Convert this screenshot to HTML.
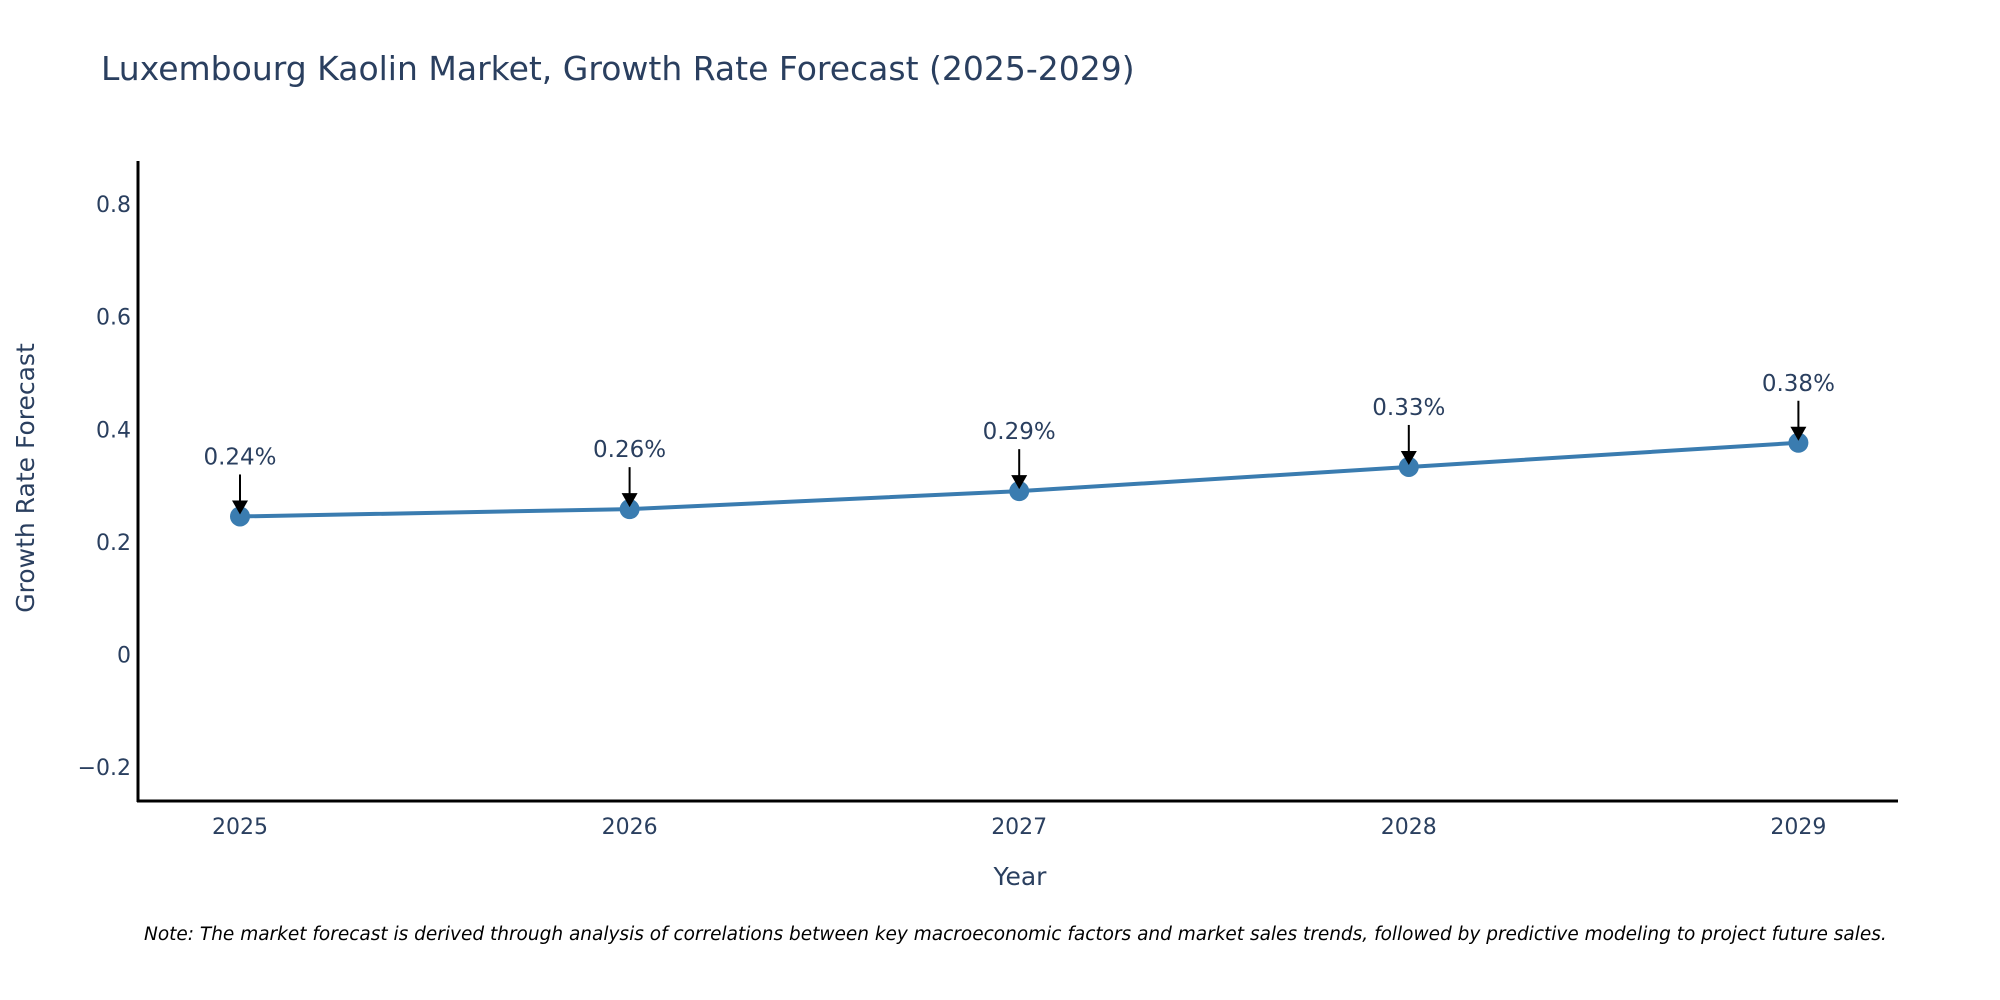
<!DOCTYPE html>
<html><head><meta charset="utf-8"><style>
body{margin:0;background:#fff;overflow:hidden}
svg{display:block;font-family:"DejaVu Sans","Liberation Sans",sans-serif}
</style></head><body>
<svg id="chart" width="2000" height="1000" viewBox="0 0 2000 1000">
<text x="101" y="80" font-size="33" fill="#2a3f5f">Luxembourg Kaolin Market, Growth Rate Forecast (2025-2029)</text>
<g id="yticks"></g>
<g id="xticks"></g>
<line x1="138" y1="161" x2="138" y2="802" stroke="#000" stroke-width="3"/>
<line x1="137" y1="801" x2="1898" y2="801" stroke="#000" stroke-width="3"/>
<g id="series"></g>
<g id="annots"></g>
<text x="1020" y="885" font-size="25" fill="#2a3f5f" text-anchor="middle">Year</text>
<text transform="translate(34,478) rotate(-90)" font-size="25" fill="#2a3f5f" text-anchor="middle">Growth Rate Forecast</text>
<text x="144" y="940" font-size="18.5" font-style="italic" fill="#000">Note: The market forecast is derived through analysis of correlations between key macroeconomic factors and market sales trends, followed by predictive modeling to project future sales.</text>
</svg>
<script>
const categories = ["2025","2026","2027","2028","2029"];
const values = [0.245, 0.258, 0.290, 0.333, 0.376];
const labels = ["0.24%","0.26%","0.29%","0.33%","0.38%"];
const yTicks = [-0.2, 0, 0.2, 0.4, 0.6, 0.8];
const yTickLabels = ["\u22120.2","0","0.2","0.4","0.6","0.8"];
const NS="http://www.w3.org/2000/svg";
function xS(i){return 240 + i*389.6;}
function yS(v){return 654.3 - v*562.6;}
function mk(t,a,p){const e=document.createElementNS(NS,t);for(const k in a)e.setAttribute(k,a[k]);p.appendChild(e);return e;}
const yt=document.getElementById('yticks');
yTicks.forEach((v,i)=>{const t=mk('text',{x:131,y:yS(v)+8,'font-size':22,fill:'#2a3f5f','text-anchor':'end'},yt);


t.textContent=yTickLabels[i];});
const xt=document.getElementById('xticks');
categories.forEach((c,i)=>{const t=mk('text',{x:xS(i),y:834,'font-size':22,fill:'#2a3f5f','text-anchor':'middle'},xt);


t.textContent=c;});
const s=document.getElementById('series');
const line=mk('polyline',{points:values.map((v,i)=>xS(i)+','+yS(v)).join(' '),fill:'none',stroke:'#3a7cb0','stroke-width':4},s);


values.forEach((v,i)=>{const c=mk('circle',{cx:xS(i),cy:yS(v),r:10,fill:'#3a7cb0'},s);

});
const an=document.getElementById('annots');
values.forEach((v,i)=>{const x=xS(i),y=yS(v);
const l=mk('line',{x1:x,y1:y-42,x2:x,y2:y-14,stroke:'#000','stroke-width':2},an);


const h=mk('polygon',{points:`${x-8},${y-16} ${x+8},${y-16} ${x},${y-2}`,fill:'#000'},an);


const t=mk('text',{x:x,y:y-52,'font-size':23,fill:'#2a3f5f','text-anchor':'middle'},an);


t.textContent=labels[i];});
</script>
</body></html>
